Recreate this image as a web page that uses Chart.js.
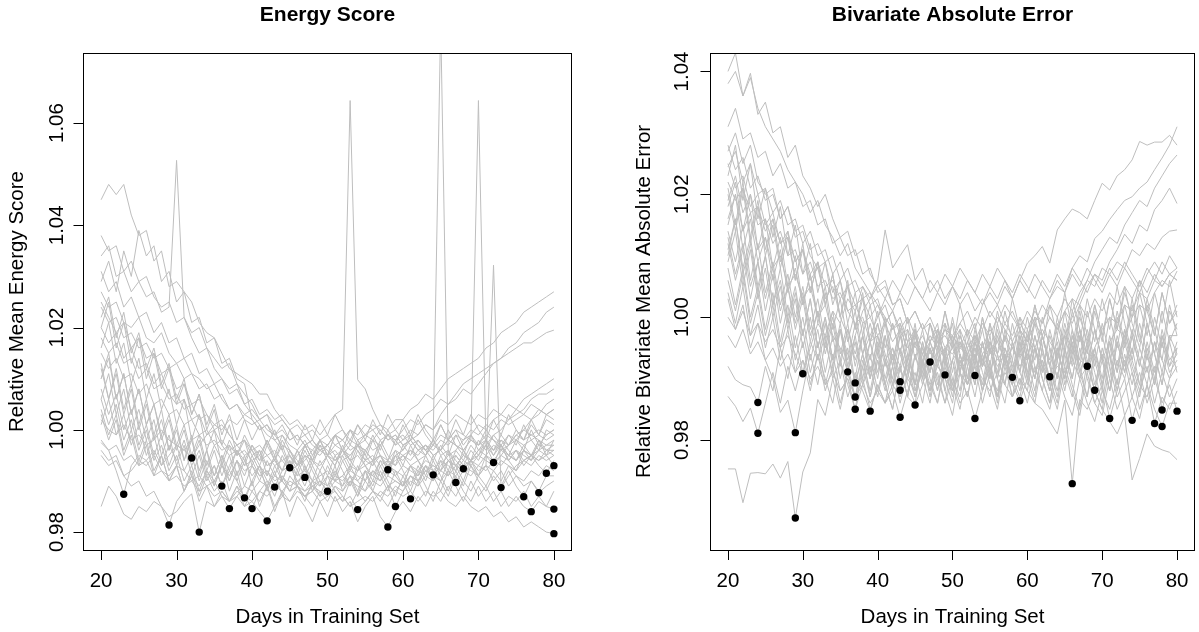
<!DOCTYPE html>
<html>
<head>
<meta charset="utf-8">
<script src="https://cdn.jsdelivr.net/npm/chart.js@4.4.0/dist/chart.umd.min.js"></script>
<style>
  html, body { margin: 0; padding: 0; background: #fff; }
  #wrap { position: relative; width: 1199px; height: 632px; }
  #esChart { position: absolute; left: 0; top: 0; }
  #maeChart { position: absolute; left: 600px; top: 0; }
</style>
</head>
<body>
<div id="wrap">
  <canvas id="esChart" width="600" height="632"></canvas>
  <canvas id="maeChart" width="599" height="632"></canvas>
</div>
<script>
// days in training set (x values of every line)
const days = [20,21,22,23,24,25,26,27,28,29,30,31,32,33,34,35,36,37,38,39,40,41,42,43,44,45,46,47,48,49,
  50,51,52,53,54,55,56,57,58,59,60,61,62,63,64,65,66,67,68,69,70,71,72,73,74,75,76,77,78,79,80];

const xTickVals = [20, 30, 40, 50, 60, 70, 80];
const xTickLabels = ['20', '30', '40', '50', '60', '70', '80'];
const xTitle = 'Days in Training Set';

// ---- Energy Score panel ----
const esTitle = 'Energy Score';
const esYTitle = 'Relative Mean Energy Score';
const esYTickVals = [0.98, 1.00, 1.02, 1.04, 1.06];
const esYTickLabels = ['0.98', '1.00', '1.02', '1.04', '1.06'];

const es01 = [1.045,1.048,1.046,1.048,1.042,1.038,1.039,1.033,1.035,1.028,
  1.029,1.027,1.025,1.021,1.019,1.018,1.015,1.012,1.011,1.010,
  1.009,1.007,1.007,1.004,1.002,1.000,0.998,0.999,0.997,0.996,
  0.995,0.996,0.994,0.995,0.997,0.996,0.994,0.995,0.9922,0.995,
  0.996,0.998,0.999,1.001,1.000,1.003,1.005,1.006,1.008,1.007,
  1.009,1.011,1.013,1.014,1.016,1.017,1.019,1.020,1.021,1.023,1.024];
const es02 = [1.038,1.035,1.036,1.031,1.033,1.029,1.030,1.026,1.024,1.025,
  1.021,1.022,1.018,1.015,1.016,1.012,1.010,1.008,1.009,1.005,
  1.003,1.001,0.999,0.998,0.996,0.9926,0.995,0.997,0.996,0.998,
  0.997,0.999,1.000,0.998,1.001,0.999,1.000,1.001,1.000,1.002,
  1.002,1.004,1.005,1.007,1.006,1.008,1.010,1.011,1.012,1.013,
  1.014,1.016,1.017,1.019,1.020,1.021,1.023,1.024,1.025,1.026,1.027];
const es03 = [1.034,1.036,1.030,1.031,1.027,1.029,1.026,1.027,1.023,1.024,
  1.0527,1.022,1.019,1.020,1.016,1.014,1.012,1.013,1.009,1.007,
  1.005,1.002,1.003,0.999,0.997,0.996,0.994,0.9907,0.994,0.993,
  0.995,0.994,0.996,0.995,0.997,0.996,0.998,0.997,0.999,0.998,
  1.000,1.002,1.001,1.003,1.004,1.006,1.005,1.007,1.009,1.010,
  1.011,1.012,1.013,1.014,1.015,1.016,1.017,1.017,1.018,1.019,1.0195];
const es04 = [1.029,1.033,1.027,1.035,1.030,1.039,1.034,1.036,1.029,1.031,
  1.025,1.027,1.021,1.022,1.017,1.018,1.013,1.014,1.010,1.009,
  1.002,1.000,1.001,0.998,0.999,0.997,0.996,0.998,0.995,0.997,
  0.996,0.994,0.995,0.997,0.996,0.994,0.995,0.993,0.994,0.996,
  0.995,0.993,0.994,0.992,0.9912,0.993,0.995,0.996,0.998,0.999,
  1.001,1.000,1.002,1.003,1.005,1.004,1.006,1.007,1.008,1.009,1.010];
const es05 = [1.031,1.027,1.029,1.024,1.026,1.022,1.023,1.019,1.021,1.017,
  1.018,1.014,1.015,1.011,1.012,1.009,1.010,1.007,1.008,1.005,
  1.006,1.003,1.004,1.002,1.003,1.001,1.002,1.000,1.001,0.999,
  1.001,1.003,1.004,1.0644,1.0098,1.008,1.004,1.001,0.999,1.000,
  0.998,0.999,0.997,0.996,0.998,0.995,0.996,0.994,0.9924,0.994,
  0.996,0.997,0.999,1.000,1.002,1.003,1.004,1.006,1.007,1.007,1.008];
const es06 = [1.027,1.024,1.025,1.021,1.020,1.022,1.018,1.017,1.019,1.015,
  1.013,1.014,1.011,1.010,1.008,1.009,1.006,1.004,1.005,1.002,
  1.001,1.002,1.000,0.999,1.001,0.998,0.999,0.997,0.998,0.996,
  0.997,0.999,0.998,1.000,0.998,0.999,1.001,1.000,0.998,0.999,
  0.997,0.998,0.996,0.997,0.995,0.996,0.998,0.997,0.996,0.998,
  1.0644,0.997,0.9936,0.995,0.997,0.999,1.000,1.002,1.003,1.005,1.006];
const es07 = [1.025,1.022,1.019,1.021,1.016,1.018,1.014,1.015,1.011,1.012,
  1.008,1.009,1.005,1.006,1.003,1.001,1.002,0.999,0.997,0.998,
  0.995,0.996,0.993,0.994,0.992,0.993,0.990,0.991,0.989,0.990,
  0.988,0.990,0.991,0.989,0.992,0.993,0.991,0.994,0.993,0.995,
  0.994,0.996,0.995,0.997,0.996,0.998,0.997,0.999,0.998,1.000,
  0.999,1.001,1.000,1.002,1.001,1.002,1.003,1.002,1.004,1.003,1.004];
const es08 = [1.020,1.017,1.019,1.014,1.016,1.012,1.013,1.009,1.011,1.007,
  1.005,1.006,1.002,1.003,0.999,1.000,0.997,0.995,0.996,0.993,
  0.994,0.991,0.992,0.989,0.990,0.988,0.989,0.987,0.988,0.986,
  0.987,0.988,0.986,0.987,0.9844,0.986,0.988,0.987,0.989,0.990,
  0.989,0.991,0.990,0.992,0.993,0.992,0.994,0.993,0.995,0.994,
  0.996,0.995,0.997,0.996,0.997,0.998,0.997,0.998,0.999,0.998,0.999];
const es09 = [1.013,1.006,1.012,1.004,1.009,1.001,1.006,0.999,1.004,0.996,
  1.001,0.994,0.999,0.991,0.996,0.989,0.994,0.988,0.992,0.986,
  0.990,0.985,0.989,0.984,0.988,0.983,0.987,0.985,0.982,0.986,
  0.983,0.987,0.984,0.986,0.982,0.985,0.987,0.983,0.981,0.984,
  0.986,0.984,0.987,0.985,0.988,0.986,0.989,0.987,0.990,0.988,
  0.991,0.989,0.992,0.990,0.993,0.991,0.990,0.992,0.991,0.993,0.992];
const es10 = [1.016,1.021,1.013,1.017,1.009,1.014,1.006,1.011,1.004,1.008,
  1.001,1.006,0.998,1.003,0.996,1.000,0.993,0.997,0.991,0.995,
  0.989,0.993,0.988,0.992,0.987,0.991,0.989,0.986,0.990,0.987,
  0.991,0.988,0.986,0.990,0.987,0.992,0.988,0.986,0.989,0.985,
  0.988,0.991,0.989,0.993,0.990,0.994,0.991,0.995,0.993,0.996,
  0.994,0.997,0.995,0.998,0.996,0.994,0.997,0.995,0.998,0.996,0.996];
const es11 = [1.022,1.026,1.018,1.023,1.015,1.019,1.012,1.016,1.009,1.013,
  1.006,1.010,1.003,1.007,1.000,1.004,0.997,1.001,0.995,0.998,
  0.993,0.996,0.991,0.995,0.990,0.994,0.989,0.993,0.988,0.992,
  0.989,0.993,0.988,0.991,0.987,0.990,0.988,0.992,0.989,0.988,
  0.990,0.9865,0.990,0.993,0.991,0.995,0.992,0.996,0.994,0.997,
  0.995,0.998,0.996,0.999,0.997,1.000,0.998,1.001,0.999,1.002,1.001];
const es12 = [1.018,1.015,1.017,1.013,1.014,1.010,1.012,1.008,1.009,1.006,
  1.007,1.004,1.005,1.002,1.003,1.000,1.001,0.999,0.997,0.998,
  0.996,0.997,0.995,0.996,0.994,0.995,0.993,0.994,0.996,0.995,
  0.997,0.995,0.996,0.994,0.995,0.993,0.994,0.995,0.993,0.994,
  0.995,0.996,0.994,0.995,0.998,1.080,0.996,0.9897,0.992,0.994,
  0.995,0.997,0.996,0.998,0.997,0.999,0.998,0.999,1.000,0.999,1.000];
const es13 = [1.015,1.012,1.014,1.010,1.011,1.007,1.009,1.005,1.006,1.003,
  1.004,1.001,1.002,0.999,1.000,0.997,0.998,0.996,0.997,0.995,
  0.996,0.994,0.995,0.993,0.994,0.992,0.993,0.995,0.994,0.996,
  0.995,0.997,0.996,0.998,0.997,0.999,0.998,1.000,0.998,0.999,
  0.997,0.998,0.996,0.997,0.995,0.996,0.994,0.995,0.993,0.994,
  0.992,0.993,1.0322,0.9887,0.991,0.993,0.994,0.995,0.996,0.997,0.998];
const es14 = [1.010,1.014,1.006,1.011,1.003,1.008,1.001,1.005,0.999,1.003,
  0.997,1.001,0.995,0.999,0.993,0.997,0.994,0.998,0.995,0.999,
  0.996,0.993,0.997,0.994,0.998,0.995,0.992,0.996,0.993,0.997,
  0.994,0.991,0.995,0.992,0.996,0.993,0.990,0.994,0.991,0.995,
  0.992,0.989,0.993,0.990,0.994,0.991,0.988,0.992,0.989,0.993,
  0.990,0.988,0.991,0.989,0.992,0.989,0.9869,0.990,0.988,0.991,0.991];
const es15 = [1.012,1.006,1.011,1.003,1.008,1.000,1.005,0.998,1.002,0.996,
  1.000,0.994,0.998,0.992,0.996,0.991,0.995,0.990,0.994,0.989,
  0.993,0.990,0.994,0.991,0.995,0.992,0.996,0.993,0.990,0.994,
  0.991,0.995,0.992,0.989,0.993,0.990,0.994,0.991,0.988,0.992,
  0.989,0.993,0.990,0.987,0.991,0.988,0.992,0.989,0.986,0.990,
  0.987,0.989,0.986,0.988,0.985,0.987,0.985,0.984,0.986,0.985,0.988];
const es16 = [1.008,1.003,1.007,1.000,1.004,0.997,1.001,0.995,0.999,0.993,
  0.997,0.992,0.995,0.990,0.994,0.991,0.995,0.992,0.996,0.993,
  0.997,0.994,0.998,0.995,0.999,0.996,0.993,0.997,0.994,0.998,
  0.995,0.999,0.996,0.993,0.997,0.994,0.998,0.995,0.992,0.996,
  0.993,0.997,0.994,0.991,0.995,0.992,0.996,0.993,0.990,0.994,
  0.991,0.993,0.990,0.992,0.989,0.991,0.989,0.990,0.9877,0.989,0.990];
const es17 = [1.020,1.025,1.016,1.021,1.013,1.018,1.010,1.015,1.008,1.012,
  1.005,1.009,1.003,1.007,1.001,1.005,0.999,1.003,0.998,1.002,
  0.998,1.001,0.997,1.000,0.996,1.000,0.997,1.001,0.998,1.002,
  0.999,1.003,1.000,0.997,1.001,0.998,1.002,0.999,1.003,1.000,
  1.002,0.999,1.003,1.000,0.998,1.001,0.998,1.000,0.997,0.999,
  0.996,0.998,0.995,0.997,0.994,0.996,0.993,0.995,0.993,0.9915,0.994];
const es18 = [1.024,1.021,1.022,1.018,1.019,1.016,1.017,1.014,1.015,1.012,
  1.013,1.010,1.011,1.008,1.009,1.006,1.007,1.004,1.005,1.003,
  1.004,1.002,1.003,1.001,1.002,1.000,1.001,0.999,1.000,0.998,
  0.999,0.997,0.998,0.996,0.997,0.998,0.996,0.997,0.999,0.998,
  0.999,0.997,0.998,0.996,0.997,0.999,0.998,1.000,0.999,0.998,
  0.997,0.998,0.996,0.997,0.995,0.996,0.994,0.995,0.994,0.995,0.993];
const es19 = [1.006,1.001,1.005,0.998,1.002,0.996,1.000,0.994,0.997,0.992,
  0.995,0.990,0.993,0.988,0.992,0.989,0.993,0.990,0.994,0.991,
  0.995,0.992,0.989,0.993,0.990,0.994,0.991,0.995,0.992,0.989,
  0.993,0.990,0.994,0.991,0.988,0.992,0.989,0.993,0.990,0.987,
  0.991,0.988,0.992,0.989,0.986,0.990,0.987,0.991,0.988,0.986,
  0.989,0.986,0.988,0.985,0.987,0.986,0.988,0.985,0.987,0.985,0.9845];
const es20 = [1.004,0.999,1.003,0.996,1.000,0.994,0.998,0.992,0.995,0.990,
  0.993,0.988,0.991,0.986,0.989,0.985,0.988,0.986,0.989,0.985,
  0.988,0.986,0.989,0.985,0.988,0.986,0.989,0.987,0.985,0.988,
  0.986,0.989,0.987,0.985,0.988,0.986,0.988,0.987,0.985,0.988,
  0.987,0.988,0.986,0.988,0.987,0.988,0.986,0.985,0.987,0.985,
  0.984,0.985,0.983,0.984,0.982,0.983,0.981,0.982,0.981,0.980,0.9797];
const es21 = [0.9975,0.996,0.992,0.9874,0.993,0.995,0.994,0.996,0.993,0.995,
  0.997,0.996,0.998,0.999,0.997,0.998,0.996,0.997,0.995,0.996,
  0.994,0.995,0.993,0.994,0.992,0.993,0.991,0.992,0.990,0.991,
  0.992,0.990,0.991,0.993,0.992,0.994,0.993,0.995,0.994,0.993,
  0.995,0.994,0.996,0.995,0.997,0.996,0.998,0.997,0.996,0.998,
  0.997,0.999,0.998,0.997,0.999,0.998,1.000,0.999,0.998,0.997,0.997];
const es22 = [0.996,0.994,0.995,0.991,0.989,0.990,0.987,0.988,0.985,0.9814,
  0.986,0.988,0.991,0.989,0.992,0.990,0.993,0.991,0.994,0.992,
  0.993,0.991,0.992,0.990,0.991,0.989,0.990,0.988,0.989,0.987,
  0.988,0.986,0.987,0.985,0.986,0.987,0.986,0.988,0.987,0.989,
  0.988,0.990,0.989,0.991,0.990,0.992,0.991,0.993,0.992,0.991,
  0.993,0.992,0.994,0.993,0.995,0.994,0.996,0.995,0.994,0.996,0.995];
const es23 = [0.985,0.989,0.987,0.9835,0.9825,0.985,0.984,0.986,0.985,0.983,
  0.984,0.986,0.9875,0.980,0.986,0.985,0.987,0.986,0.988,0.987,
  0.986,0.988,0.987,0.989,0.988,0.990,0.989,0.988,0.990,0.989,
  0.991,0.990,0.989,0.991,0.990,0.992,0.991,0.990,0.992,0.991,
  0.993,0.992,0.991,0.993,0.992,0.994,0.993,0.992,0.994,0.993,
  0.995,0.994,0.993,0.995,0.994,0.996,0.995,0.994,0.996,0.995,0.996];
const es24 = [1.002,1.000,0.999,1.001,0.998,0.999,0.997,0.998,1.000,0.998,
  0.997,0.996,0.9945,0.997,0.999,1.001,1.000,1.002,1.001,1.003,
  1.002,1.000,1.001,0.999,1.000,0.998,0.999,0.997,0.998,0.996,
  0.997,0.999,0.998,1.000,0.999,1.001,1.000,0.998,0.999,0.997,
  0.998,1.000,0.999,1.001,1.000,1.002,1.001,1.003,1.002,1.001,
  1.003,1.002,1.004,1.003,1.002,1.004,1.003,1.005,1.004,1.003,1.004];
const es25 = [1.001,1.006,0.999,1.003,0.997,1.001,0.995,0.999,0.993,0.997,
  0.994,0.998,0.993,0.996,0.991,0.993,0.989,0.993,0.996,0.994,
  0.997,0.995,0.998,0.994,0.997,0.993,0.996,0.992,0.995,0.998,
  0.995,0.993,0.996,0.994,0.998,0.995,0.993,0.997,0.994,0.998,
  0.996,0.999,0.997,0.995,0.998,0.996,1.000,0.997,0.995,0.999,
  0.997,1.000,0.998,0.996,0.999,0.997,1.001,0.998,0.996,1.000,0.999];
const es26 = [0.995,0.993,0.994,0.991,0.992,0.994,0.993,0.995,0.992,0.991,
  0.993,0.992,0.990,0.991,0.989,0.990,0.987,0.9846,0.987,0.989,
  0.988,0.990,0.989,0.991,0.990,0.988,0.989,0.987,0.988,0.990,
  0.989,0.991,0.990,0.992,0.991,0.990,0.992,0.991,0.993,0.992,
  0.991,0.993,0.992,0.994,0.993,0.992,0.994,0.993,0.995,0.994,
  0.993,0.995,0.994,0.996,0.995,0.994,0.996,0.995,0.997,0.996,0.997];
const es27 = [1.006,1.011,1.003,1.008,1.000,1.004,0.998,1.002,0.995,0.999,
  0.993,0.997,0.991,0.995,0.990,0.993,0.989,0.992,0.990,0.9867,
  0.990,0.993,0.991,0.995,0.992,0.996,0.993,0.997,0.994,0.992,
  0.995,0.993,0.997,0.994,0.992,0.996,0.994,0.998,0.995,0.993,
  0.997,0.995,0.998,0.996,0.994,0.997,0.995,0.999,0.996,0.994,
  0.998,0.996,0.999,0.997,0.995,0.998,0.996,1.000,0.997,0.999,1.000];
const es28 = [1.003,0.998,1.002,0.995,0.999,0.993,0.997,0.991,0.995,0.990,
  0.993,0.988,0.992,0.987,0.991,0.988,0.990,0.986,0.989,0.987,
  0.9846,0.988,0.990,0.987,0.991,0.988,0.992,0.989,0.993,0.990,
  0.988,0.992,0.989,0.993,0.990,0.988,0.992,0.990,0.994,0.991,
  0.989,0.993,0.991,0.995,0.992,0.990,0.994,0.992,0.996,0.993,
  0.991,0.995,0.993,0.997,0.994,0.992,0.996,0.994,0.998,0.995,0.998];
const es29 = [0.998,0.996,0.997,0.994,0.995,0.993,0.994,0.991,0.992,0.990,
  0.991,0.989,0.990,0.988,0.989,0.987,0.988,0.986,0.987,0.985,
  0.986,0.984,0.9822,0.985,0.987,0.986,0.988,0.987,0.989,0.988,
  0.987,0.989,0.988,0.990,0.989,0.988,0.990,0.989,0.991,0.990,
  0.989,0.991,0.990,0.992,0.991,0.990,0.992,0.991,0.993,0.992,
  0.991,0.993,0.992,0.994,0.993,0.992,0.994,0.993,0.995,0.994,0.995];
const es30 = [1.010,1.015,1.006,1.011,1.003,1.008,1.001,1.005,0.998,1.002,
  0.996,1.000,0.994,0.998,0.992,0.996,0.991,0.995,0.990,0.994,
  0.991,0.993,0.990,0.9888,0.992,0.995,0.993,0.997,0.994,0.998,
  0.995,0.999,0.996,1.000,0.997,0.995,0.999,0.996,1.000,0.997,
  1.001,0.998,1.002,0.999,0.997,1.001,0.998,1.002,0.999,1.003,
  1.000,0.998,1.002,0.999,1.003,1.000,0.998,1.002,0.999,1.003,1.002];

// best day per series (black dots)
const esDotDays = [23,29,32,33,36,37,39,40,42,43,45,47,50,54,58,58,59,61,64,67,68,72,73,76,77,78,79,80,80,80];
const esDotVals = [0.9874,0.9814,0.9945,0.9800,0.9890,0.9846,0.9867,0.9846,0.9822,0.9888,
  0.9926,0.9907,0.9880,0.9844,0.9922,0.9810,0.9850,0.9865,0.9912,0.9897,
  0.9924,0.9936,0.9887,0.9869,0.9840,0.9877,0.9915,0.9930,0.9845,0.9797];

// ---- Bivariate Absolute Error panel ----
const maeTitle = 'Bivariate Absolute Error';
const maeYTitle = 'Relative Bivariate Mean Absolute Error';
const maeYTickVals = [0.98, 1.00, 1.02, 1.04];
const maeYTickLabels = ['0.98', '1.00', '1.02', '1.04'];

const mae01 = [1.040,1.043,1.036,1.039,1.034,1.031,1.029,1.027,1.024,1.022,
  1.020,1.017,1.019,1.015,1.013,1.010,1.012,1.008,1.006,1.004,
  1.002,1.000,0.998,1.000,0.996,0.998,0.995,0.9927,0.996,0.998,
  0.997,0.999,1.001,0.998,1.002,1.004,1.002,1.005,1.003,1.006,
  1.0088,1.010,1.0115,1.0088,1.0142,1.016,1.0176,1.017,1.016,1.019,
  1.0218,1.0207,1.023,1.024,1.0256,1.0286,1.028,1.0285,1.0285,1.0296,1.028];
const mae02 = [1.038,1.040,1.036,1.0397,1.033,1.035,1.030,1.031,1.026,1.028,
  1.023,1.021,1.018,1.020,1.016,1.013,1.014,1.010,1.011,1.007,
  1.005,1.006,1.002,1.003,0.999,1.001,0.998,0.999,0.996,0.997,
  0.995,0.997,0.994,0.996,0.993,0.995,0.992,0.994,0.9902,0.995,
  0.997,1.000,0.999,1.003,1.005,1.004,1.008,1.010,1.009,1.0128,
  1.014,1.0159,1.0175,1.019,1.0196,1.021,1.022,1.024,1.0259,1.028,1.031];
const mae03 = [1.031,1.034,1.029,1.030,1.026,1.027,1.023,1.025,1.021,1.022,
  1.018,1.019,1.015,1.016,1.012,1.013,1.010,1.011,1.007,1.008,
  1.004,1.005,1.002,1.003,0.999,1.001,0.998,1.000,0.997,0.999,
  0.996,0.998,0.995,0.997,0.994,0.996,0.993,0.995,0.992,0.994,
  0.993,0.995,0.992,0.9903,0.994,0.997,1.000,1.003,1.006,1.009,
  1.011,1.013,1.012,1.015,1.017,1.019,1.018,1.021,1.023,1.025,1.0264];
const mae04 = [1.028,1.024,1.026,1.021,1.023,1.019,1.020,1.016,1.018,1.014,
  1.015,1.011,1.012,1.009,1.010,1.006,1.008,1.004,1.005,1.002,
  1.003,0.999,1.001,0.997,0.998,0.995,0.997,0.994,0.996,0.993,
  0.995,0.992,0.994,0.9905,0.993,0.996,0.994,0.997,0.995,0.998,
  0.996,0.999,0.997,1.000,0.998,1.001,1.003,1.002,1.005,1.007,
  1.006,1.009,1.011,1.0135,1.012,1.015,1.014,1.0175,1.019,1.021,1.0185];
const mae05 = [1.0245,1.027,1.022,1.025,1.020,1.021,1.017,1.019,1.015,1.016,
  1.012,1.014,1.010,1.011,1.007,1.009,1.005,1.006,1.003,1.004,
  1.000,1.002,0.998,0.999,0.996,0.997,0.993,0.995,0.992,0.9906,
  0.993,0.995,0.994,0.997,0.995,0.998,0.996,0.999,0.997,1.000,
  0.998,1.001,0.999,1.002,1.000,1.003,1.001,1.004,1.006,1.005,
  1.008,1.007,1.009,1.008,1.011,1.010,1.012,1.011,1.013,1.014,1.0142];
const mae06 = [1.022,1.019,1.021,1.017,1.018,1.014,1.016,1.012,1.013,1.009,
  1.011,1.007,1.009,1.005,1.006,1.003,1.005,1.002,1.003,1.000,
  1.002,0.999,1.001,0.998,1.000,0.997,0.999,0.996,0.998,0.995,
  0.997,0.995,0.998,0.996,0.999,0.997,1.000,0.998,0.996,0.999,
  0.997,0.995,0.998,0.996,0.994,0.997,0.995,0.993,0.992,0.995,
  0.998,1.000,0.999,1.002,1.001,1.004,1.003,1.006,1.005,1.007,1.008];
const mae07 = [1.019,1.023,1.017,1.020,1.015,1.016,1.012,1.014,1.010,1.011,
  1.007,1.009,1.005,1.006,1.003,1.004,1.001,1.002,0.999,1.000,
  0.997,0.999,0.996,0.998,0.995,0.997,0.994,0.996,0.993,0.995,
  0.994,0.996,0.993,0.995,0.992,0.994,0.996,0.993,0.995,0.992,
  0.994,0.991,0.993,0.990,0.992,0.991,0.993,0.990,0.992,0.9881,
  0.993,0.996,0.998,0.997,1.000,1.002,1.001,1.004,1.006,1.005,1.0075];
const mae08 = [1.027,1.030,1.025,1.028,1.022,1.020,1.021,1.016,1.018,1.013,
  1.014,1.010,1.008,1.009,1.004,1.006,1.001,0.999,1.000,0.996,
  0.997,0.993,0.995,0.9895,0.993,0.996,0.994,0.997,0.995,0.998,
  0.996,0.999,0.997,1.000,0.998,1.001,0.999,1.002,1.000,0.998,
  1.001,0.999,1.002,1.000,0.998,1.001,0.999,1.002,1.000,1.003,
  1.001,1.004,1.002,1.005,1.003,1.006,1.004,1.007,1.005,1.007,1.006];
const mae09 = [1.016,1.020,1.014,1.017,1.011,1.013,1.008,1.010,1.005,1.007,
  1.003,1.005,1.000,1.002,0.997,0.995,0.9911,0.997,1.001,1.003,
  1.005,1.003,1.006,1.004,1.007,1.005,1.003,1.006,1.004,1.007,
  1.005,1.008,1.006,1.004,1.007,1.005,1.008,1.006,1.003,1.006,
  1.004,1.007,1.005,1.003,1.006,1.004,1.007,1.005,1.008,1.006,
  1.004,1.007,1.005,1.008,1.006,1.004,1.007,1.009,1.007,1.010,1.008];
const mae10 = [1.000,0.998,1.001,0.997,0.999,0.996,0.998,0.995,0.997,0.994,
  0.9908,0.995,0.999,0.997,1.001,0.999,1.003,1.001,1.005,1.003,
  1.006,1.0142,1.008,1.010,1.0118,1.006,1.008,1.004,1.006,1.003,
  1.005,1.002,1.004,1.001,1.003,1.000,1.002,0.999,1.001,0.998,
  0.996,1.002,0.997,0.993,1.000,0.995,1.003,0.998,0.994,1.001,
  0.996,1.003,0.998,1.005,0.999,0.995,1.002,0.997,1.004,0.999,1.001];
const mae11 = [0.997,0.995,0.998,0.994,0.996,0.993,0.995,0.992,0.994,0.991,
  0.993,0.990,0.992,0.989,0.991,0.988,0.990,0.987,0.989,0.986,
  0.988,0.986,0.989,0.987,0.990,0.988,0.991,0.989,0.992,0.990,
  0.988,0.991,0.989,0.992,0.990,0.988,0.991,0.989,0.987,0.990,
  0.988,0.986,0.985,0.983,0.981,0.9865,0.9729,0.9866,0.985,0.988,
  0.985,0.983,0.981,0.984,0.9735,0.977,0.981,0.979,0.9784,0.978,0.9768];
const mae12 = [1.013,1.007,1.012,1.005,1.009,1.003,1.008,1.001,1.005,0.999,
  1.004,0.997,1.001,0.995,1.000,0.993,0.998,0.994,0.999,0.991,
  0.996,0.990,0.995,0.992,0.998,0.989,0.994,0.991,0.997,0.988,
  0.993,0.998,0.990,0.996,0.992,0.999,0.994,0.989,0.996,0.991,
  0.988,0.995,0.990,0.986,0.994,0.991,0.987,0.995,0.990,0.986,
  0.989,0.9835,0.988,0.994,0.989,0.995,0.991,0.996,0.993,0.990,0.995];
const mae13 = [1.010,1.016,1.007,1.012,1.004,1.010,1.002,1.006,0.999,1.004,
  0.997,1.003,0.995,1.000,0.993,0.999,0.992,0.997,0.990,0.996,
  0.991,0.997,0.989,0.995,0.991,0.998,0.990,0.996,0.992,0.999,
  0.991,0.997,0.993,0.989,0.996,0.990,0.998,0.993,0.989,0.997,
  0.991,0.987,0.995,0.990,0.986,0.994,0.989,0.985,0.993,0.988,
  0.985,0.992,0.987,0.990,0.9832,0.988,0.992,0.986,0.991,0.987,0.990];
const mae14 = [1.012,1.006,1.011,1.003,1.009,1.001,1.007,0.999,1.005,0.998,
  1.003,0.996,1.001,0.994,0.999,0.992,0.998,0.993,0.997,0.990,
  0.995,0.989,0.994,0.991,0.996,0.988,0.993,0.987,0.994,0.990,
  0.986,0.993,0.989,0.995,0.988,0.992,0.986,0.994,0.990,0.987,
  0.993,0.988,0.995,0.989,0.985,0.992,0.988,0.984,0.991,0.986,
  0.984,0.990,0.985,0.988,0.991,0.985,0.989,0.9827,0.987,0.985,0.988];
const mae15 = [1.020,1.014,1.021,1.012,1.018,1.010,1.015,1.008,1.013,1.006,
  1.011,1.004,1.009,1.002,1.007,1.000,1.005,0.998,1.003,0.996,
  1.001,0.995,0.999,0.994,1.000,0.993,0.998,0.992,0.997,0.994,
  0.999,0.991,0.996,0.993,0.998,0.992,0.999,0.994,0.990,0.997,
  0.993,0.999,0.994,0.990,0.997,0.992,0.998,0.991,0.995,0.989,
  0.994,0.988,0.993,0.990,0.995,0.989,0.987,0.992,0.9849,0.990,0.992];
const mae16 = [1.008,1.002,1.008,1.000,1.005,0.998,1.004,0.996,1.002,0.995,
  1.000,0.993,0.998,0.991,0.997,0.990,0.995,0.989,0.994,0.987,
  0.993,0.988,0.992,0.986,0.991,0.987,0.993,0.989,0.986,0.992,
  0.987,0.994,0.989,0.992,0.986,0.991,0.988,0.993,0.987,0.990,
  0.986,0.992,0.988,0.985,0.991,0.987,0.984,0.990,0.986,0.983,
  0.988,0.985,0.990,0.984,0.987,0.9835,0.989,0.985,0.9822,0.986,0.986];
const mae17 = [1.015,1.020,1.011,1.016,1.009,1.013,1.006,1.011,1.004,1.008,
  1.002,1.007,1.000,1.005,0.998,1.003,0.996,1.001,0.994,0.999,
  0.994,0.999,0.992,0.997,0.993,0.999,0.991,0.996,0.999,0.992,
  0.997,0.991,0.996,0.999,0.992,0.997,0.990,0.995,0.991,0.998,
  0.994,0.990,0.997,0.992,0.996,0.989,0.994,0.998,0.991,0.995,
  0.989,0.994,0.988,0.993,0.987,0.991,0.986,0.990,0.986,0.989,0.9847];
const mae18 = [0.992,0.9898,0.989,0.9886,0.9861,0.992,0.988,0.995,0.990,0.997,
  0.991,0.996,0.993,0.999,0.992,0.998,0.994,0.990,0.997,0.993,
  0.999,0.994,0.990,0.997,0.992,0.989,0.996,0.991,0.998,0.993,
  0.989,0.996,0.992,0.998,0.993,0.990,0.997,0.992,0.999,0.994,
  1.000,0.995,0.991,0.998,0.993,1.001,0.995,1.002,0.997,0.992,
  0.999,0.994,1.001,0.996,1.003,0.997,0.993,1.000,0.995,1.002,0.997];
const mae19 = [0.9871,0.9855,0.983,0.9852,0.9811,0.986,0.991,0.986,0.992,0.988,
  0.993,0.988,0.994,0.990,0.986,0.993,0.989,0.985,0.992,0.987,
  0.993,0.989,0.985,0.992,0.987,0.994,0.989,0.995,0.990,0.986,
  0.993,0.988,0.995,0.990,0.996,0.991,0.987,0.994,0.989,0.996,
  0.990,0.997,0.992,0.988,0.995,0.990,0.997,0.992,0.998,0.993,
  0.988,0.996,0.991,0.998,0.993,0.999,0.994,0.989,0.997,0.992,0.996];
const mae20 = [0.9753,0.9753,0.9698,0.9746,0.9747,0.9745,0.9761,0.9738,0.9765,0.9673,
  0.9748,0.9779,0.9866,0.984,0.990,0.985,0.991,0.987,0.993,0.988,
  0.994,0.989,0.985,0.992,0.987,0.994,0.990,0.986,0.993,0.988,
  0.984,0.991,0.987,0.993,0.988,0.995,0.990,0.986,0.993,0.989,
  0.995,0.990,0.997,0.992,0.988,0.995,0.990,0.997,0.992,0.998,
  0.993,0.988,0.996,0.991,0.997,0.992,0.999,0.994,0.989,0.996,0.991];
const mae21 = [1.003,0.998,1.002,0.995,0.999,0.993,0.990,0.9845,0.9865,0.9812,
  0.988,0.994,0.989,0.996,0.991,0.998,0.993,0.999,0.994,0.990,
  0.997,0.992,0.999,0.994,0.990,0.997,0.992,0.999,0.995,1.001,
  0.996,0.991,0.998,0.993,1.000,0.995,0.990,0.998,0.993,1.000,
  0.995,1.002,0.997,0.992,0.999,0.994,1.001,0.996,1.003,0.998,
  0.993,1.000,0.995,1.002,0.997,1.004,0.999,0.994,1.001,0.996,0.999];
const mae22 = [1.025,1.021,1.023,1.018,1.020,1.015,1.017,1.012,1.014,1.009,
  1.011,1.006,1.008,1.003,1.005,1.000,0.997,0.9893,0.994,0.997,
  1.000,1.003,1.001,1.004,1.002,1.005,1.003,1.001,1.004,1.002,
  1.005,1.003,1.006,1.004,1.002,1.005,1.003,1.006,1.004,1.007,
  1.005,1.003,1.006,1.004,1.007,1.005,1.008,1.006,1.004,1.007,
  1.005,1.008,1.006,1.009,1.007,1.005,1.008,1.006,1.009,1.007,1.006];
const mae23 = [1.018,1.022,1.014,1.020,1.011,1.016,1.008,1.013,1.005,1.010,
  1.002,1.007,0.999,1.004,0.996,0.998,0.992,0.9870,0.992,0.996,
  0.990,0.997,0.992,0.999,0.994,0.989,0.996,0.991,0.998,0.993,
  1.000,0.994,0.990,0.997,0.992,0.999,0.994,1.001,0.996,0.991,
  0.998,0.993,1.000,0.995,0.990,0.998,0.993,1.001,0.995,1.002,
  0.997,0.992,1.000,0.995,1.002,0.996,1.003,0.998,0.993,1.001,0.998];
const mae24 = [1.006,1.001,1.007,0.999,1.004,0.997,1.002,0.995,1.000,0.993,
  0.998,0.991,0.996,0.989,0.994,0.988,0.990,0.9850,0.989,0.992,
  0.987,0.993,0.988,0.995,0.989,0.986,0.993,0.988,0.995,0.990,
  0.996,0.991,0.987,0.994,0.989,0.996,0.991,0.997,0.992,0.988,
  0.995,0.990,0.997,0.992,0.987,0.995,0.990,0.997,0.992,0.998,
  0.993,0.988,0.996,0.991,0.997,0.992,0.999,0.994,0.989,0.997,0.997];
const mae25 = [1.009,1.014,1.005,1.011,1.003,1.008,1.000,1.005,0.998,1.003,
  0.995,1.000,0.993,0.997,0.990,0.993,0.987,0.991,0.988,0.9847,
  0.989,0.986,0.992,0.987,0.994,0.989,0.995,0.990,0.986,0.993,
  0.988,0.994,0.989,0.996,0.991,0.987,0.994,0.989,0.996,0.991,
  0.997,0.992,0.988,0.995,0.990,0.997,0.992,0.998,0.993,0.988,
  0.995,0.990,0.997,0.992,0.998,0.993,0.989,0.996,0.991,0.997,0.994];
const mae26 = [1.021,1.015,1.022,1.013,1.019,1.011,1.016,1.009,1.014,1.006,
  1.012,1.004,1.009,1.002,1.007,1.000,1.006,0.998,1.004,0.996,
  0.999,0.993,0.990,0.9881,0.993,0.998,0.992,0.999,0.994,1.001,
  0.995,1.002,0.997,0.992,1.000,0.994,1.001,0.996,1.003,0.998,
  0.993,1.000,0.995,1.002,0.997,1.004,0.998,0.993,1.001,0.996,
  1.003,0.998,1.005,0.999,0.994,1.002,0.997,1.004,0.999,1.006,1.000];
const mae27 = [1.004,0.999,1.005,0.997,1.002,0.995,1.000,0.993,0.998,0.991,
  0.996,0.989,0.994,0.988,0.992,0.986,0.991,0.987,0.990,0.985,
  0.989,0.986,0.988,0.9837,0.988,0.991,0.986,0.993,0.988,0.994,
  0.989,0.985,0.992,0.987,0.994,0.989,0.985,0.992,0.987,0.994,
  0.989,0.995,0.990,0.986,0.993,0.988,0.995,0.990,0.996,0.991,
  0.986,0.994,0.989,0.996,0.991,0.987,0.994,0.989,0.996,0.991,0.993];
const mae28 = [1.011,1.016,1.008,1.013,1.005,1.010,1.002,1.008,1.000,1.005,
  0.997,1.003,0.995,1.000,0.993,0.998,0.991,0.996,0.989,0.994,
  0.988,0.993,0.989,0.992,0.987,0.9857,0.989,0.993,0.988,0.995,
  0.990,0.987,0.994,0.989,0.996,0.991,0.987,0.994,0.989,0.996,
  0.991,0.997,0.992,0.988,0.995,0.990,0.997,0.992,0.987,0.995,
  0.990,0.997,0.992,0.998,0.993,0.989,0.996,0.991,0.998,0.993,0.995];
const mae29 = [1.014,1.009,1.015,1.006,1.012,1.004,1.009,1.002,1.007,1.000,
  1.005,0.998,1.003,0.996,1.001,0.994,0.999,0.992,0.997,0.990,
  0.995,0.989,0.994,0.988,0.993,0.987,0.992,0.988,0.991,0.986,
  0.990,0.986,0.988,0.9835,0.988,0.993,0.987,0.994,0.989,0.995,
  0.990,0.986,0.993,0.988,0.995,0.990,0.996,0.991,0.987,0.994,
  0.989,0.996,0.991,0.997,0.992,0.988,0.995,0.990,0.997,0.992,0.994];
const mae30 = [1.023,1.028,1.019,1.025,1.016,1.021,1.013,1.018,1.010,1.015,
  1.007,1.012,1.004,1.009,1.002,1.006,0.999,1.004,0.997,1.002,
  0.995,1.000,0.993,0.998,0.991,0.996,0.990,0.995,0.989,0.994,
  0.988,0.993,0.989,0.994,0.988,0.992,0.987,0.991,0.989,0.9864,
  0.990,0.995,0.991,0.997,0.993,0.999,0.994,1.000,0.996,1.002,
  0.997,1.003,0.998,1.004,1.000,1.006,1.001,0.997,1.004,0.999,1.002];

const maeDotDays = [24,24,29,29,30,36,37,37,37,39,43,43,43,45,47,49,53,53,58,59,63,66,68,69,71,74,77,78,78,80];
const maeDotVals = [0.9861,0.9811,0.9812,0.9673,0.9908,0.9911,0.9893,0.9870,0.9850,0.9847,
  0.9895,0.9881,0.9837,0.9857,0.9927,0.9906,0.9905,0.9835,0.9902,0.9864,
  0.9903,0.9729,0.9920,0.9881,0.9835,0.9832,0.9827,0.9849,0.9822,0.9847];

const esLines = [es01,es02,es03,es04,es05,es06,es07,es08,es09,es10,es11,es12,es13,es14,es15,
  es16,es17,es18,es19,es20,es21,es22,es23,es24,es25,es26,es27,es28,es29,es30];
const maeLines = [mae01,mae02,mae03,mae04,mae05,mae06,mae07,mae08,mae09,mae10,mae11,mae12,mae13,mae14,mae15,
  mae16,mae17,mae18,mae19,mae20,mae21,mae22,mae23,mae24,mae25,mae26,mae27,mae28,mae29,mae30];

const FONT = '"Liberation Sans", Arial, Helvetica, sans-serif';

// R style frame: box, outside ticks, rotated y labels, titles
const rFrame = {
  id: 'rFrame',
  afterDraw(chart, args, o) {
    const { ctx, chartArea: a } = chart;
    const x = chart.scales.x, y = chart.scales.y;
    ctx.save();
    ctx.strokeStyle = '#000';
    ctx.lineWidth = 1;
    ctx.strokeRect(a.left + 0.5, a.top + 0.5, a.right - a.left - 1, a.bottom - a.top);
    ctx.beginPath();
    xTickVals.forEach(v => {
      const px = Math.round(x.getPixelForValue(v)) + 0.5;
      ctx.moveTo(px, a.bottom);
      ctx.lineTo(px, a.bottom + 10);
    });
    o.yTicks.forEach(v => {
      const py = Math.round(y.getPixelForValue(v)) + 0.5;
      ctx.moveTo(a.left + 0.5, py);
      ctx.lineTo(a.left - 9.5, py);
    });
    ctx.stroke();

    ctx.fillStyle = '#000';
    ctx.textAlign = 'center';
    ctx.textBaseline = 'alphabetic';
    ctx.font = '20.5px ' + FONT;
    xTickVals.forEach((v, i) => {
      ctx.fillText(xTickLabels[i], x.getPixelForValue(v), 587);
    });
    ctx.fillText(xTitle, (a.left + a.right) / 2, 623);
    o.yTicks.forEach((v, i) => {
      ctx.save();
      ctx.translate(o.yLabelX, y.getPixelForValue(v));
      ctx.rotate(-Math.PI / 2);
      ctx.fillText(o.yLabels[i], 0, 0);
      ctx.restore();
    });
    ctx.save();
    ctx.translate(o.yTitleX, (a.top + a.bottom) / 2);
    ctx.rotate(-Math.PI / 2);
    ctx.fillText(o.yTitle, 0, 0);
    ctx.restore();

    ctx.font = 'bold 21px ' + FONT;
    ctx.fillText(o.title, (a.left + a.right) / 2, 21);
    ctx.restore();
  }
};

function buildChart(id, lines, dotDays, dotVals, yMin, yMax, pad, frame) {
  const datasets = [{
    data: dotDays.map((d, i) => ({ x: d, y: dotVals[i] })),
    backgroundColor: '#000',
    borderWidth: 0,
    pointRadius: 3.7,
    showLine: false
  }];
  lines.forEach(vals => {
    datasets.push({
      data: vals.map((v, i) => ({ x: days[i], y: v })),
      showLine: true,
      borderColor: '#bebebe',
      borderWidth: 1,
      pointRadius: 0,
      fill: false,
      tension: 0
    });
  });
  return new Chart(document.getElementById(id), {
    type: 'scatter',
    data: { datasets },
    options: {
      responsive: false,
      animation: false,
      events: [],
      layout: { padding: pad },
      plugins: {
        legend: { display: false },
        tooltip: { enabled: false },
        rFrame: frame
      },
      scales: {
        x: { type: 'linear', display: false, min: 17.6, max: 82.4 },
        y: { type: 'linear', display: false, min: yMin, max: yMax }
      }
    },
    plugins: [rFrame]
  });
}

buildChart('esChart', esLines, esDotDays, esDotVals, 0.9765, 1.0737,
  { left: 83, right: 28, top: 53, bottom: 82 },
  { title: esTitle, yTitle: esYTitle, yTicks: esYTickVals, yLabels: esYTickLabels, yLabelX: 63.3, yTitleX: 23.3 });

buildChart('maeChart', maeLines, maeDotDays, maeDotVals, 0.9621, 1.0430,
  { left: 110, right: 1, top: 53, bottom: 82 },
  { title: maeTitle, yTitle: maeYTitle, yTicks: maeYTickVals, yLabels: maeYTickLabels, yLabelX: 88.3, yTitleX: 50 });
</script>
</body>
</html>
